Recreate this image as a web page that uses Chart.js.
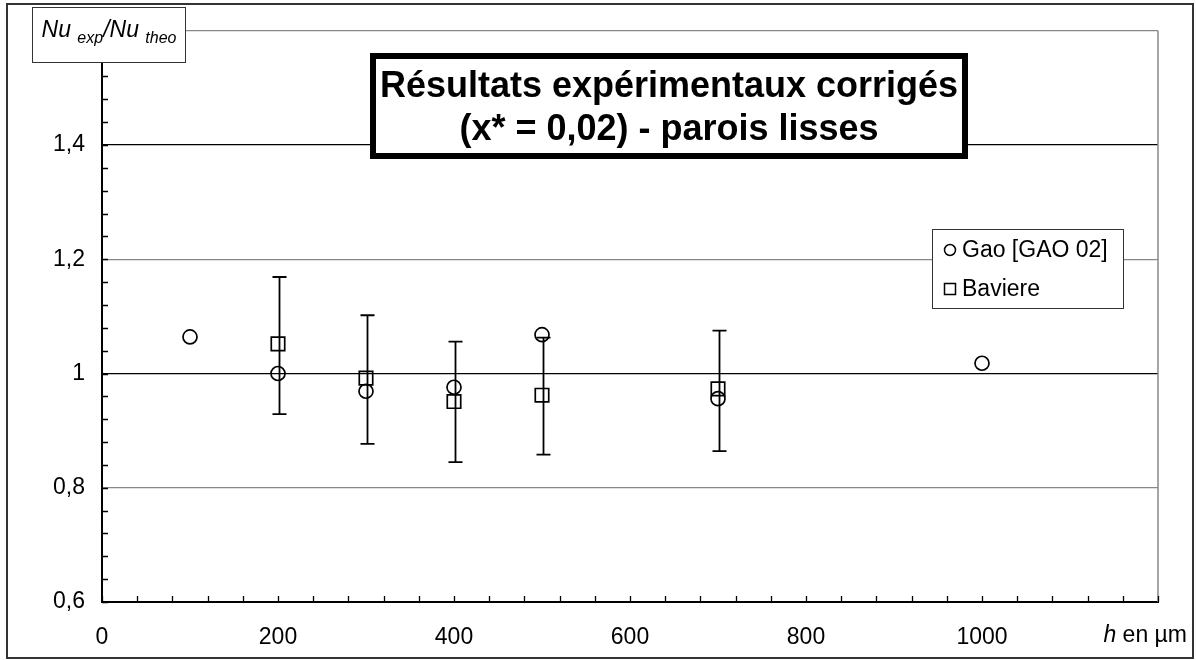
<!DOCTYPE html>
<html>
<head>
<meta charset="utf-8">
<script src="https://cdn.jsdelivr.net/npm/chart.js@4.4.1/dist/chart.umd.min.js"></script>
<style>
  html, body { margin: 0; padding: 0; background: #fff; }
  canvas { display: block; }
</style>
</head>
<body>
<canvas id="c" width="1196" height="660"></canvas>
<script>
const FONT = '"Liberation Sans", Arial, sans-serif';

// h (µm) and Nu_exp/Nu_theo
const gaoX = [100, 200, 300, 400, 500, 700, 1000];
const gaoY = [1.064, 1.0, 0.969, 0.976, 1.068, 0.956, 1.018];

const bavX = [200, 300, 400, 500, 700];
const bavY = [1.052, 0.992, 0.951, 0.962, 0.973];
const bavHigh = [1.169, 1.102, 1.056, 1.063, 1.075];
const bavLow = [0.929, 0.877, 0.845, 0.858, 0.864];

const seriesNames = ['Gao [GAO 02]', 'Baviere'];
const titleLines = ['Résultats expérimentaux corrigés', '(x* = 0,02) - parois lisses'];

const isMajor = (v, per) => Math.abs(v / per - Math.round(v / per)) < 1e-6;

// white page + outer frame
const pageFrame = {
    id: 'pageFrame',
    beforeDraw(chart) {
        const { ctx } = chart;
        ctx.save();
        ctx.fillStyle = '#fff';
        ctx.fillRect(0, 0, chart.width, chart.height);
        ctx.strokeStyle = '#333';
        ctx.lineWidth = 2;
        ctx.strokeRect(7, 4, 1186, 654);
        ctx.restore();
    },
};

// gray right edge of the plot + tick marks pointing inwards
const plotFrame = {
    id: 'plotFrame',
    beforeDatasetsDraw(chart) {
        const { ctx, chartArea: a } = chart;
        const x = chart.scales.x, y = chart.scales.y;
        ctx.save();
        ctx.strokeStyle = '#888';
        ctx.lineWidth = 1.5;
        ctx.beginPath();
        ctx.moveTo(a.right, a.top);
        ctx.lineTo(a.right, a.bottom);
        ctx.stroke();

        ctx.strokeStyle = '#000';
        ctx.lineWidth = 1.3;
        ctx.beginPath();
        y.ticks.forEach(t => {
            const py = Math.round(y.getPixelForValue(t.value)) + 0.5;
            ctx.moveTo(a.left, py);
            ctx.lineTo(a.left + 6, py);
        });
        x.ticks.forEach(t => {
            const px = Math.round(x.getPixelForValue(t.value)) + 0.5;
            ctx.moveTo(px, a.bottom);
            ctx.lineTo(px, a.bottom - 6);
        });
        ctx.stroke();
        ctx.restore();
    },
};

// error bars on the Baviere points
const errorBars = {
    id: 'errorBars',
    beforeDatasetsDraw(chart) {
        const { ctx } = chart;
        const x = chart.scales.x, y = chart.scales.y;
        ctx.save();
        ctx.strokeStyle = '#000';
        ctx.lineWidth = 1.8;
        ctx.beginPath();
        bavX.forEach((v, i) => {
            const px = x.getPixelForValue(v) + 1.5;
            const hi = y.getPixelForValue(bavHigh[i]);
            const lo = y.getPixelForValue(bavLow[i]);
            ctx.moveTo(px, hi);
            ctx.lineTo(px, lo);
            ctx.moveTo(px - 7, hi);
            ctx.lineTo(px + 7, hi);
            ctx.moveTo(px - 7, lo);
            ctx.lineTo(px + 7, lo);
        });
        ctx.stroke();
        ctx.restore();
    },
};

// title box, y-axis title box, x-axis title, legend box
const annotations = {
    id: 'annotations',
    afterDraw(chart) {
        const { ctx } = chart;
        ctx.save();

        // title
        ctx.fillStyle = '#fff';
        ctx.fillRect(373, 56, 592, 100);
        ctx.strokeStyle = '#000';
        ctx.lineWidth = 6;
        ctx.strokeRect(373, 56, 592, 100);
        ctx.fillStyle = '#000';
        ctx.font = 'bold 36px ' + FONT;
        ctx.textAlign = 'center';
        ctx.textBaseline = 'alphabetic';
        const sx = Math.min(1, 586 / ctx.measureText(titleLines[0]).width);
        ctx.save();
        ctx.translate(669, 0);
        ctx.scale(sx, 1);
        ctx.fillText(titleLines[0], 0, 97);
        ctx.fillText(titleLines[1], 0, 140);
        ctx.restore();

        // y title
        ctx.fillStyle = '#fff';
        ctx.fillRect(32.5, 7.5, 153, 55);
        ctx.strokeStyle = '#333';
        ctx.lineWidth = 1;
        ctx.strokeRect(32.5, 7.5, 153, 55);
        const parts = [
            ['Nu', 23, 0], [' ', 23, 0], ['exp', 16, 6],
            ['/Nu', 23, 0], [' ', 23, 0], ['theo', 16, 6],
        ];
        let w = 0;
        parts.forEach(p => { ctx.font = 'italic ' + p[1] + 'px ' + FONT; w += ctx.measureText(p[0]).width; });
        let tx = 109 - w / 2;
        ctx.fillStyle = '#000';
        ctx.textAlign = 'left';
        parts.forEach(p => {
            ctx.font = 'italic ' + p[1] + 'px ' + FONT;
            ctx.fillText(p[0], tx, 37 + p[2]);
            tx += ctx.measureText(p[0]).width;
        });

        // x title
        ctx.font = '23px ' + FONT;
        const rest = ' en µm';
        const rw = ctx.measureText(rest).width;
        ctx.textBaseline = 'middle';
        ctx.fillText(rest, 1187 - rw, 636);
        ctx.font = 'italic 23px ' + FONT;
        const hw = ctx.measureText('h').width;
        ctx.fillText('h', 1187 - rw - hw, 636);

        // legend
        ctx.fillStyle = '#fff';
        ctx.fillRect(932.5, 229.5, 191, 79);
        ctx.strokeStyle = '#333';
        ctx.lineWidth = 1;
        ctx.strokeRect(932.5, 229.5, 191, 79);
        ctx.strokeStyle = '#000';
        ctx.lineWidth = 1.5;
        ctx.beginPath();
        ctx.arc(950, 250, 5.5, 0, Math.PI * 2);
        ctx.stroke();
        ctx.strokeRect(944.5, 283.5, 11, 11);
        ctx.fillStyle = '#000';
        ctx.font = '23px ' + FONT;
        ctx.textAlign = 'left';
        ctx.textBaseline = 'middle';
        ctx.fillText(seriesNames[0], 962, 251);
        ctx.fillText(seriesNames[1], 962, 290);

        ctx.restore();
    },
};

const yLabel = v => {
    if (!isMajor(v, 0.2) || v > 1.5) return '';
    return String(Math.round(v * 10) / 10).replace('.', ',');
};

new Chart(document.getElementById('c'), {
    type: 'scatter',
    data: {
        datasets: [
            {
                label: seriesNames[0],
                data: gaoX.map((x, i) => ({ x, y: gaoY[i] })),
                pointStyle: 'circle',
                pointRadius: 7,
                pointBorderWidth: 1.7,
                borderColor: '#000',
                backgroundColor: 'rgba(0,0,0,0)',
            },
            {
                label: seriesNames[1],
                data: bavX.map((x, i) => ({ x, y: bavY[i] })),
                pointStyle: 'rect',
                pointRadius: 9.5,
                pointBorderWidth: 1.7,
                borderColor: '#000',
                backgroundColor: 'rgba(0,0,0,0)',
            },
        ],
    },
    options: {
        responsive: false,
        animation: false,
        events: [],
        layout: { padding: { left: 0, top: 24, right: 38, bottom: 0 } },
        plugins: {
            legend: { display: false },
            tooltip: { enabled: false },
        },
        scales: {
            x: {
                type: 'linear',
                min: 0,
                max: 1200,
                afterFit: s => { s.height = 58; },
                grid: { display: false },
                border: { display: true, color: '#000', width: 2 },
                ticks: {
                    stepSize: 40,
                    autoSkip: false,
                    maxRotation: 0,
                    padding: 14,
                    color: '#000',
                    font: { family: FONT, size: 23 },
                    callback: v => (isMajor(v, 200) && v < 1200 ? String(Math.round(v)) : ''),
                },
            },
            y: {
                min: 0.6,
                max: 1.6,
                afterFit: s => { s.width = 102; },
                grid: {
                    drawTicks: false,
                    lineWidth: 1.2,
                    color: c => {
                        const v = c.tick ? c.tick.value : 0;
                        if (!isMajor(v, 0.2)) return 'rgba(0,0,0,0)';
                        return Math.round(v * 10) % 4 === 2 ? '#000' : '#888';
                    },
                },
                border: { display: true, color: '#000', width: 2 },
                ticks: {
                    stepSize: 0.04,
                    autoSkip: false,
                    padding: 17,
                    color: '#000',
                    font: { family: FONT, size: 23 },
                    callback: yLabel,
                },
            },
        },
    },
    plugins: [pageFrame, plotFrame, errorBars, annotations],
});
</script>
</body>
</html>
